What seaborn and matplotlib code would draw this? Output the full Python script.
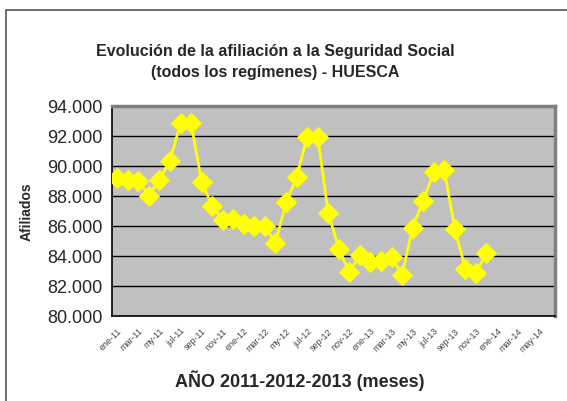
import matplotlib
matplotlib.use("Agg")
import matplotlib.pyplot as plt
from matplotlib.patches import Rectangle
from matplotlib.ticker import FuncFormatter, FixedLocator
import seaborn as sns
import pandas as pd
import numpy as np

months = ["ene-11", "feb-11", "mar-11", "abr-11", "my-11", "jun-11", "jul-11", "ago-11",
          "sep-11", "oct-11", "nov-11", "dic-11",
          "ene-12", "feb-12", "mar-12", "abr-12", "my-12", "jun-12", "jul-12", "ago-12",
          "sep-12", "oct-12", "nov-12", "dic-12",
          "ene-13", "feb-13", "mar-13", "abr-13", "my-13", "jun-13", "jul-13", "ago-13",
          "sep-13", "oct-13", "nov-13", "dic-13",
          "ene-14", "feb-14", "mar-14", "abr-14", "may-14", "jun-14"]

afiliados = [89180, 89090, 89020, 88020, 89090, 90360, 92870, 92870,
             88910, 87350, 86410, 86460,
             86120, 86010, 85970, 84900, 87570, 89240, 91960, 91960,
             86900, 84500, 82940, 84050,
             83610, 83670, 83960, 82740, 85900, 87680, 89580, 89750,
             85790, 83160, 82850, 84230]

title = "Evolución de la afiliación a la Seguridad Social\n(todos los regímenes) - HUESCA"
xlabel = "AÑO 2011-2012-2013 (meses)"
ylabel = "Afiliados"
yticks = [80000, 82000, 84000, 86000, 88000, 90000, 92000, 94000]

sns.set_style("white")
plt.rcParams['font.family'] = ['Liberation Sans', 'DejaVu Sans']

df = pd.DataFrame({"pos": [months.index(m) for m in months[:len(afiliados)]],
                   "val": afiliados})

fig = plt.figure(figsize=(5.67, 4.02), dpi=100)
fig.patches.append(Rectangle((6 / 567, -0.1), 1.2, 1 - 11 / 402 + 0.1,
                             transform=fig.transFigure, fill=False,
                             edgecolor="#555555", linewidth=1.2))
ax = fig.add_axes([112 / 567, 1 - 317 / 402, (555 - 112) / 567, (317 - 107) / 402])
ax.set_facecolor("#C0C0C0")

for y in yticks[1:-1]:
    ax.axhline(y, color="black", linewidth=1.0, zorder=1)

sns.lineplot(data=df, x="pos", y="val", ax=ax, color="#FFFF00", linewidth=2,
             marker="D", markersize=10, markeredgecolor="#FFFF00", zorder=3)

ax.set_xlim(-0.5, len(months) - 0.5)
ax.set_ylim(yticks[0], yticks[-1])
ax.set_yticks(yticks)
ax.yaxis.set_major_formatter(FuncFormatter(lambda v, p: f"{int(v):,}".replace(",", ".")))
ax.tick_params(axis="y", labelsize=13, length=4, width=1, color="black", direction="out",
               pad=3)

ax.set_xticks(list(range(0, len(months), 2)))
ax.set_xticklabels(months[::2], rotation=45, ha="right", rotation_mode="anchor",
                   fontsize=6.5, color="#444444")
ax.xaxis.set_minor_locator(FixedLocator(np.arange(-0.5, len(months), 1)))
ax.tick_params(axis="x", which="major", length=0, pad=7)
ax.tick_params(axis="x", which="minor", length=3, width=1, color="black", direction="out")

for s in ["left", "bottom"]:
    ax.spines[s].set_color("black")
    ax.spines[s].set_linewidth(1.2)
for s in ["top", "right"]:
    ax.spines[s].set_color("#808080")
    ax.spines[s].set_linewidth(2.5)

ax.set_xlabel("")
ax.set_ylabel(ylabel, fontsize=10, fontweight="bold")
ax.yaxis.set_label_coords(-0.176, 0.5)

fig.text(275 / 567, 1 - 62 / 402, title, ha="center", va="center", fontsize=11.5,
         fontweight="bold", linespacing=1.55)
fig.text(300 / 567, 1 - 381 / 402, xlabel, ha="center", va="center", fontsize=13,
         fontweight="bold")

fig.savefig("out.png", dpi=100)
